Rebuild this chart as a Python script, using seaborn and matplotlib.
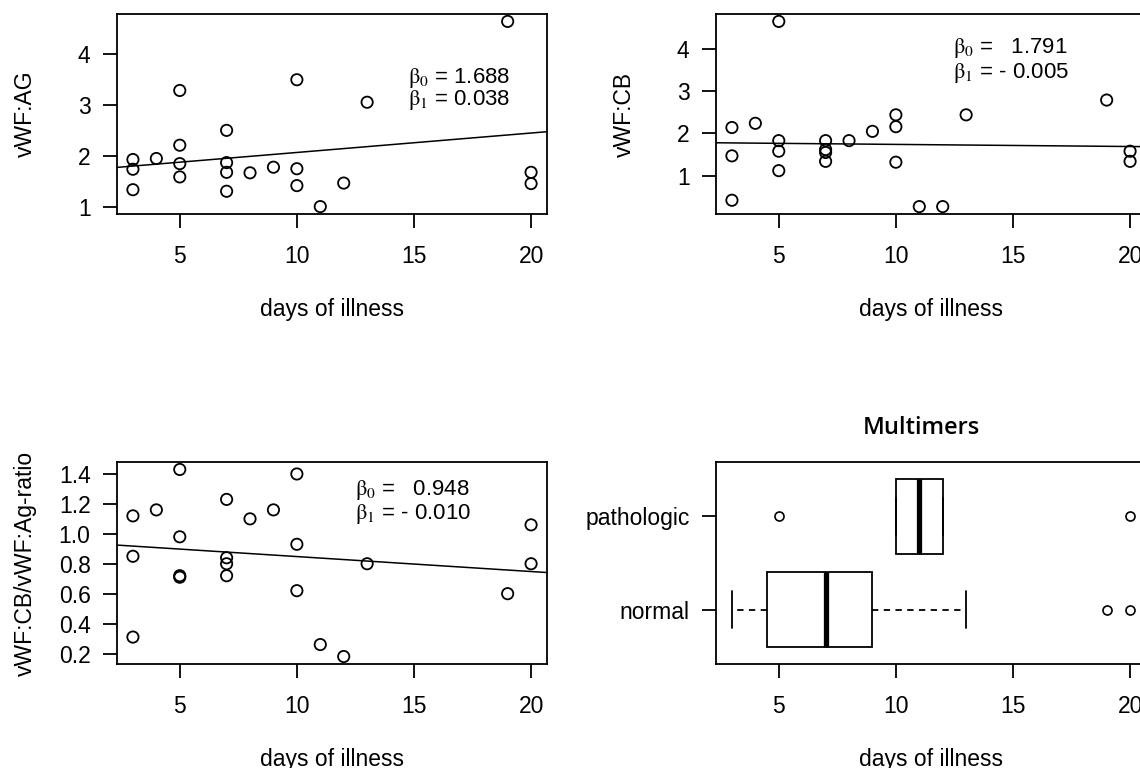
import matplotlib
matplotlib.use("Agg")
import matplotlib.pyplot as plt
import pandas as pd
import seaborn as sns

# days of illness for each patient (same for the three scatter panels)
days = [3, 3, 3, 4, 5, 5, 5, 5, 7, 7, 7, 7, 8, 9, 10, 10, 10, 11, 12, 13, 19, 20, 20]
vwf_ag = [1.93, 1.74, 1.34, 1.95, 3.28, 2.21, 1.85, 1.59, 2.50, 1.87, 1.68, 1.31,
          1.67, 1.78, 3.49, 1.75, 1.42, 1.01, 1.47, 3.05, 4.63, 1.68, 1.46]
vwf_cb = [2.14, 1.47, 0.42, 2.24, 4.65, 1.83, 1.58, 1.12, 1.83, 1.62, 1.55, 1.34,
          1.83, 2.05, 2.44, 2.16, 1.32, 0.27, 0.27, 2.44, 2.79, 1.58, 1.34]
cb_ag_ratio = [1.12, 0.85, 0.31, 1.16, 1.43, 0.98, 0.72, 0.71, 1.23, 0.84, 0.80, 0.72,
               1.10, 1.16, 1.40, 0.93, 0.62, 0.26, 0.18, 0.80, 0.60, 1.06, 0.80]

# regression coefficients (intercept, slope) as printed in the panels
coef_ag = (1.688, 0.038)
coef_cb = (1.791, -0.005)
coef_ratio = (0.948, -0.010)
coef_text_ag = [r"$\mathrm{\beta}_0$ = 1.688", r"$\mathrm{\beta}_1$ = 0.038"]
coef_text_cb = [r"$\mathrm{\beta}_0$ =   1.791", r"$\mathrm{\beta}_1$ = - 0.005"]
coef_text_ratio = [r"$\mathrm{\beta}_0$ =   0.948", r"$\mathrm{\beta}_1$ = - 0.010"]

# multimer groups
multimer_normal = [3, 3, 3, 4, 5, 5, 5, 7, 7, 7, 8, 10, 13, 19, 20]
multimer_patho = [5, 10, 11, 12, 20]
multimer_order = ["pathologic", "normal"]

sns.set_style("ticks")
plt.rcParams["font.family"] = ["Liberation Sans", "DejaVu Sans"]
plt.rcParams["mathtext.fontset"] = "stix"
plt.rcParams["axes.linewidth"] = 1.3
plt.rcParams["xtick.major.size"] = 10
plt.rcParams["ytick.major.size"] = 10
plt.rcParams["xtick.major.width"] = 1.3
plt.rcParams["ytick.major.width"] = 1.3
plt.rcParams["xtick.major.pad"] = 12
plt.rcParams["ytick.major.pad"] = 9
plt.rcParams["xtick.labelsize"] = 16.5
plt.rcParams["ytick.labelsize"] = 16.5
plt.rcParams["xtick.color"] = "black"
plt.rcParams["ytick.color"] = "black"
plt.rcParams["axes.edgecolor"] = "black"
plt.rcParams["text.color"] = "black"
plt.rcParams["axes.labelcolor"] = "black"

FS = 16.5


def r_lims(vals):
    # R style axis range: data range plus 4% on each side
    lo, hi = min(vals), max(vals)
    pad = 0.04 * (hi - lo)
    return lo - pad, hi + pad


def px_axes(fig, left, top, right, bottom):
    W, H = 1140, 768
    return fig.add_axes([left / W, 1 - bottom / H, (right - left) / W, (bottom - top) / H])


def scatter_panel(ax, y, coef, text, ylabel, yticks, text_xy, fmt=None):
    sns.scatterplot(x=days, y=y, ax=ax, marker="o", s=66, facecolor="none",
                    edgecolor="black", linewidth=1.3, zorder=3)
    ax.axline((0, coef[0]), slope=coef[1], color="black", lw=1.1)
    ax.set_xlim(r_lims(days))
    ax.set_ylim(r_lims(y))
    ax.set_xticks([5, 10, 15, 20])
    ax.set_yticks(yticks)
    if fmt:
        ax.yaxis.set_major_formatter(fmt)
    ax.set_xlabel("days of illness", fontsize=FS)
    ax.xaxis.set_label_coords(0.5, -0.475)
    ax.xaxis.label.set_va("center")
    ax.set_ylabel(ylabel, fontsize=FS)
    ax.yaxis.set_label_coords(-0.214, 0.5)
    ax.yaxis.label.set_va("center")
    tx, ty0, ty1 = text_xy
    ax.text(tx, ty0, text[0], transform=ax.transAxes, fontsize=16, va="center", color="black")
    ax.text(tx, ty1, text[1], transform=ax.transAxes, fontsize=16, va="center", color="black")
    for s in ax.spines.values():
        s.set_visible(True)


fig = plt.figure(figsize=(11.4, 7.68), dpi=100)

ax1 = px_axes(fig, 117, 14, 547, 214)
scatter_panel(ax1, vwf_ag, coef_ag, coef_text_ag, "vWF:AG", [1, 2, 3, 4],
              (0.677, 0.68, 0.57))

ax2 = px_axes(fig, 716, 14, 1146, 214)
scatter_panel(ax2, vwf_cb, coef_cb, coef_text_cb, "vWF:CB", [1, 2, 3, 4],
              (0.551, 0.83, 0.705))

ax3 = px_axes(fig, 117, 462, 547, 664)
scatter_panel(ax3, cb_ag_ratio, coef_ratio, coef_text_ratio, "vWF:CB/vWF:Ag-ratio",
              [0.2, 0.4, 0.6, 0.8, 1.0, 1.2, 1.4], (0.553, 0.861, 0.743), fmt="{x:.1f}")

# boxplot of days of illness by multimer status
ax4 = px_axes(fig, 716, 462, 1146, 664)
df_mult = pd.DataFrame({
    "days": multimer_patho + multimer_normal,
    "group": ["pathologic"] * len(multimer_patho) + ["normal"] * len(multimer_normal),
})
sns.boxplot(data=df_mult, x="days", y="group", order=multimer_order, orient="h",
            ax=ax4, color="white", linecolor="black", width=0.8, linewidth=1.3,
            whis=1.5, fliersize=6.5,
            medianprops=dict(linewidth=3.8, color="black"),
            whiskerprops=dict(linestyle=(0, (3.5, 3)), linewidth=1.3),
            flierprops=dict(marker="o", markerfacecolor="none",
                            markeredgecolor="black", markeredgewidth=1.2))
ax4.set_xlim(r_lims(days))
ax4.set_ylim(1.58, -0.58)
ax4.set_xticks([5, 10, 15, 20])
ax4.set_xlabel("days of illness", fontsize=FS)
ax4.xaxis.set_label_coords(0.5, -0.475)
ax4.xaxis.label.set_va("center")
ax4.set_ylabel("")
ax4.set_title("Multimers", fontsize=17, fontweight="semibold", color="black",
              family=["Open Sans", "Liberation Sans"], pad=20, x=0.478)
for s in ax4.spines.values():
    s.set_visible(True)

fig.savefig("out.png", dpi=100)
